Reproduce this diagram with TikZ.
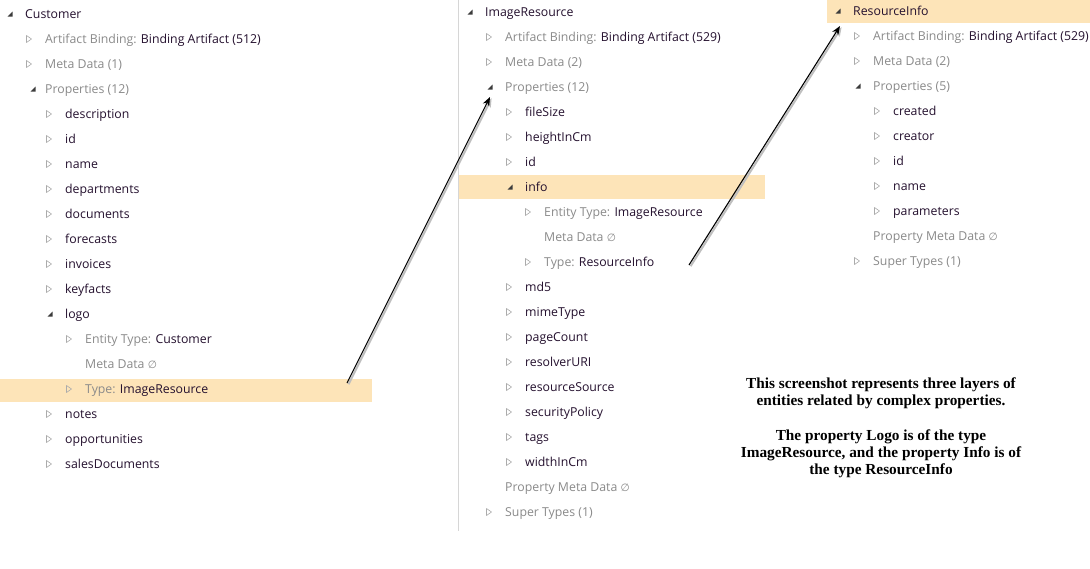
\documentclass[tikz,border=0pt]{standalone}
\usepackage{fontspec}
\setmainfont{Open Sans}
\newfontfamily\notefont{Liberation Serif}
\newfontfamily\symfont{DejaVu Sans}
\usetikzlibrary{arrows.meta}
\definecolor{ink}{HTML}{24102E}
\definecolor{muted}{HTML}{8A8A8A}
\definecolor{tick}{HTML}{ABABAB}
\definecolor{knob}{HTML}{3C3C3C}
\definecolor{pick}{HTML}{FDE4B8}
\definecolor{rule}{HTML}{D6D6D6}
\newcommand{\nil}{{\symfont\fontsize{10.5}{10.5}\selectfont ∅}}
\tikzset{sc/.style={x=1pt,y=-1pt,font=\fontsize{12.3}{14}\selectfont},
  row/.style={anchor=base west,inner sep=0pt,text=ink},
  lbl/.style={row,text=muted},
  shut/.pic={\draw[tick,line width=.6pt,line join=round] (-2.5,-3.5)--(2.5,0)--(-2.5,3.5)--cycle;},
  open/.pic={\fill[knob] (2.5,-2.5)--(2.5,2.5)--(-2.5,2.5)--cycle;},
  note/.style={align=center,text=black,font=\notefont\bfseries\fontsize{15.3}{17}\selectfont},
  link/.style={line width=1.1pt,-{Stealth[length=9pt,width=7pt]}}}

\begin{document}
\begin{tikzpicture}[sc]
  \useasboundingbox (0,0) rectangle (1090,568);
  \fill[white] (0,0) rectangle (1090,568);
  % selected rows
  \fill[pick] (0,379) rectangle (372,402);
  \fill[pick] (459,175) rectangle (765,199);
  \fill[pick] (827,0) rectangle (1090,23);
  \draw[rule] (458,0)--(458,531);

  % Customer
  \pic at (10,14) {open};\node[row] (cust) at (25,18){Customer};
  \pic at (29,39) {shut};\node[lbl] (custab) at (45,43){Artifact Binding: \textcolor{ink}{Binding Artifact (512)}};
  \pic at (29,64) {shut};\node[lbl] (custmd) at (45,68){Meta Data (1)};
  \pic at (33,89) {open};\node[lbl] (custpr) at (45,93){Properties (12)};
  \foreach \n [count=\i] in {description,id,name,departments,documents,forecasts,invoices,keyfacts}{
    \pic at (49,89+25*\i) {shut};\node[row] (c\i) at (65,93+25*\i){\n};}
  \pic at (50,314) {open};\node[row] (logo) at (65,318){logo};
  \pic at (69,339) {shut};\node[lbl] (logoet) at (85,343){Entity Type: \textcolor{ink}{Customer}};
  \node[lbl] (logomd) at (85,368){Meta Data \nil};
  \pic at (69,389) {shut};\node[lbl] (logoty) at (85,393){Type: \textcolor{ink}{ImageResource}};
  \foreach \n [count=\i] in {notes,opportunities,salesDocuments}{
    \pic at (49,389+25*\i) {shut};\node[row] (d\i) at (65,393+25*\i){\n};}

  % ImageResource
  \pic at (470,12) {open};\node[row] (img) at (485,16){ImageResource};
  \pic at (489,37) {shut};\node[lbl] (imgab) at (505,41){Artifact Binding: \textcolor{ink}{Binding Artifact (529)}};
  \pic at (489,62) {shut};\node[lbl] (imgmd) at (505,66){Meta Data (2)};
  \pic at (490,87) {open};\node[lbl] (imgpr) at (505,91){Properties (12)};
  \foreach \n [count=\i] in {fileSize,heightInCm,id}{
    \pic at (509,87+25*\i) {shut};\node[row] (m\i) at (525,91+25*\i){\n};}
  \pic at (510,187) {open};\node[row] (info) at (525,191){info};
  \pic at (528,212) {shut};\node[lbl] (infoet) at (544,216){Entity Type: \textcolor{ink}{ImageResource}};
  \node[lbl] (infomd) at (544,241){Meta Data \nil};
  \pic at (528,262) {shut};\node[lbl] (infoty) at (544,266){Type: \textcolor{ink}{ResourceInfo}};
  \foreach \n [count=\i] in {md5,mimeType,pageCount,resolverURI,resourceSource,securityPolicy,tags,widthInCm}{
    \pic at (509,262+25*\i) {shut};\node[row] (n\i) at (525,266+25*\i){\n};}
  \node[lbl] (imgpm) at (505,491){Property Meta Data \nil};
  \pic at (489,512) {shut};\node[lbl] (imgst) at (505,516){Super Types (1)};

  % ResourceInfo
  \pic at (838,11) {open};\node[row] (res) at (853,15){ResourceInfo};
  \pic at (857,36) {shut};\node[lbl] (resab) at (873,40){Artifact Binding: \textcolor{ink}{Binding Artifact (529)}};
  \pic at (857,61) {shut};\node[lbl] (resmd) at (873,65){Meta Data (2)};
  \pic at (858,86) {open};\node[lbl] (respr) at (873,90){Properties (5)};
  \foreach \n [count=\i] in {created,creator,id,name,parameters}{
    \pic at (877,86+25*\i) {shut};\node[row] (r\i) at (893,90+25*\i){\n};}
  \node[lbl] (respm) at (873,240){Property Meta Data \nil};
  \pic at (857,261) {shut};\node[lbl] (resst) at (873,265){Super Types (1)};

  % links between layers
  \coordinate (from1) at (347,383);\coordinate (to1) at (490,97);
  \coordinate (from2) at (689,265);\coordinate (to2) at (840,26);
  \foreach \a/\b in {from1/to1,from2/to2}{
    \draw[link,black!25,line width=2pt] ([xshift=1.6pt,yshift=-1.2pt]\a)--([xshift=1.6pt,yshift=-1.2pt]\b);
    \draw[link] (\a)--(\b);}

  \node[note] (memo) at (881,428){This screenshot represents three layers of\\entities related by complex properties.\\[18pt]The property Logo is of the type\\ImageResource, and the property Info is of\\the type ResourceInfo};
\end{tikzpicture}
\end{document}
